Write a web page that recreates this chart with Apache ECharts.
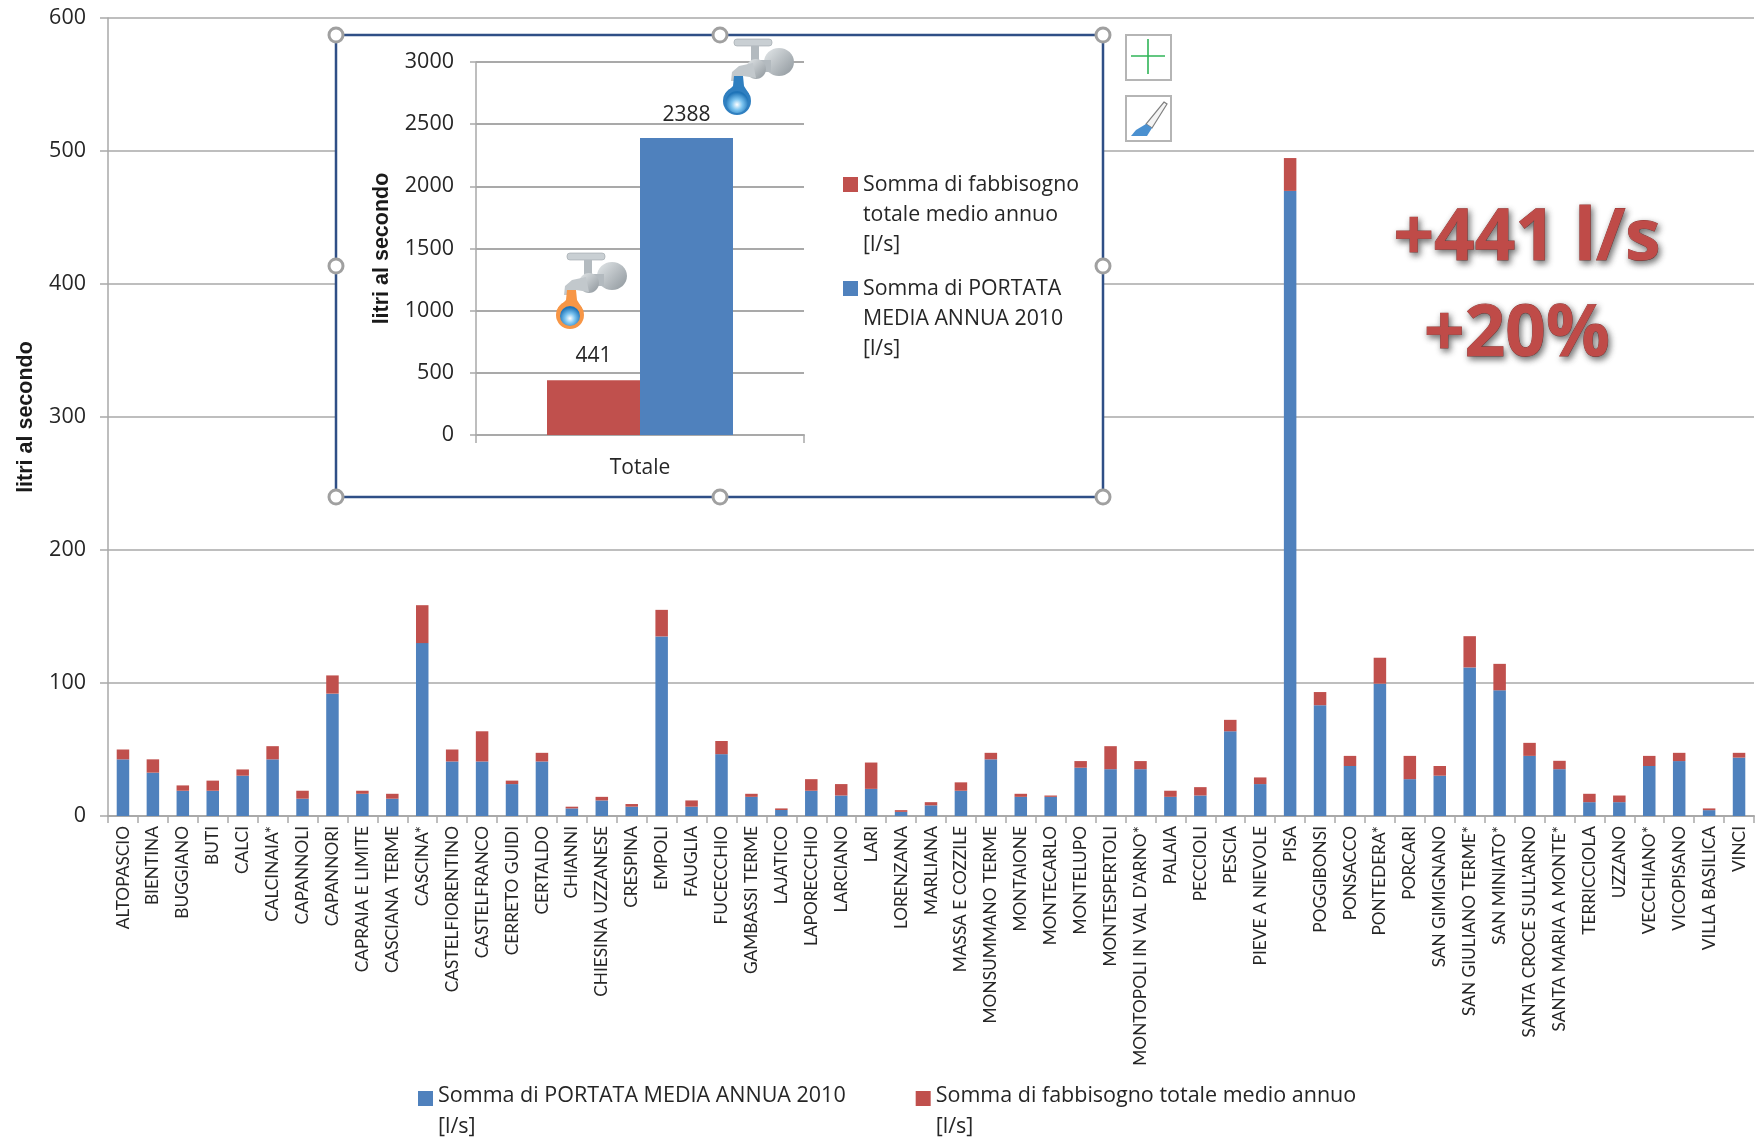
<!DOCTYPE html>
<html>
<head>
<meta charset="utf-8">
<style>html,body{margin:0;padding:0;background:#fff}#c{width:1755px;height:1139px}</style>
<script src="https://cdn.jsdelivr.net/npm/echarts@6/dist/echarts.min.js"></script>
</head>
<body>
<div id="c"></div>
<script>
const comuni = ["ALTOPASCIO","BIENTINA","BUGGIANO","BUTI","CALCI","CALCINAIA*","CAPANNOLI","CAPANNORI","CAPRAIA E LIMITE","CASCIANA TERME","CASCINA*","CASTELFIORENTINO","CASTELFRANCO","CERRETO GUIDI","CERTALDO","CHIANNI","CHIESINA UZZANESE","CRESPINA","EMPOLI","FAUGLIA","FUCECCHIO","GAMBASSI TERME","LAJATICO","LAPORECCHIO","LARCIANO","LARI","LORENZANA","MARLIANA","MASSA E COZZILE","MONSUMMANO TERME","MONTAIONE","MONTECARLO","MONTELUPO","MONTESPERTOLI","MONTOPOLI IN VAL D'ARNO*","PALAIA","PECCIOLI","PESCIA","PIEVE A NIEVOLE","PISA","POGGIBONSI","PONSACCO","PONTEDERA*","PORCARI","SAN GIMIGNANO","SAN GIULIANO TERME*","SAN MINIATO*","SANTA CROCE SULL'ARNO","SANTA MARIA A MONTE*","TERRICCIOLA","UZZANO","VECCHIANO*","VICOPISANO","VILLA BASILICA","VINCI"];
const portata = [42.6,32.6,19,19,30.3,42.6,13,92,16.7,13,130,41,41,24,41,5.7,11.7,7,135,7,46.5,14.4,4.5,19,15.4,20.4,3.1,8,19,42.6,14.4,14.4,36.3,35.2,35.2,14.4,15.4,63.7,24,470,83.3,37.6,99.5,27.7,30.3,111.7,94.5,45.2,35.2,10.4,10.4,37.6,41.3,4.4,43.9];
const fabbisogno = [7.4,10,4,7.6,4.7,9.9,6,13.7,2.3,3.7,28.5,9,22.7,2.6,6.5,1.3,2.7,2,20,4.7,9.9,2.3,1.2,8.7,8.6,19.8,1.3,2.4,6.3,4.9,2.3,1,5,17.3,6.1,4.6,6.3,8.6,5,24.7,9.9,7.6,19.5,17.5,7.3,23.5,19.9,9.8,6.3,6.3,5,7.6,6.2,1.3,3.6];
const totaleLabel = ["Totale"];
const totaleFabbisogno = [441];
const totalePortata = [2388];

const FONT = '"Open Sans", sans-serif';
const BLUE = '#4f81bd', RED = '#c0504d', GRID = '#a9a9a9', INK = '#262626';
const NAME_P = 'Somma di PORTATA MEDIA ANNUA 2010\n[l/s]';
const NAME_F = 'Somma di fabbisogno totale medio annuo\n[l/s]';
const NAME_IF = 'Somma di fabbisogno\ntotale medio annuo\n[l/s]';
const NAME_IP = 'Somma di PORTATA\nMEDIA ANNUA 2010\n[l/s]';

function faucet(x, y, orange) {
  const steel = { type:'linear', x:0, y:0, x2:1, y2:1, colorStops:[{offset:0,color:'#e4e8ea'},{offset:1,color:'#8e969c'}] };
  const drop = { type:'radial', x:0.5, y:0.62, r:0.55, colorStops:[{offset:0,color:'#ffffff'},{offset:0.45,color:'#7cc4f0'},{offset:1,color:'#1f74b8'}] };
  const dropFill = orange ? '#f79646' : '#2f7fc0';
  return { type:'group', x, y, z:12, children:[
    { type:'rect', z:12, shape:{x:11,y:3,width:38,height:7,r:3}, style:{fill:'#c9cfd3',stroke:'#9aa2a8',lineWidth:0.6} },
    { type:'rect', z:12, shape:{x:28,y:10,width:8,height:18}, style:{fill:'#b3babf'} },
    { type:'ellipse', z:12, shape:{cx:56,cy:26,rx:15,ry:14}, style:{fill:steel} },
    { type:'rect', z:12, shape:{x:36,y:24,width:12,height:12}, style:{fill:'#b3babf'} },
    { type:'ellipse', z:12, shape:{cx:33,cy:33,rx:10,ry:10}, style:{fill:steel} },
    { type:'polygon', z:12, shape:{points:[[30,27],[16,30],[9,36],[8,45],[19,45],[20,40],[33,42]]}, style:{fill:'#c2c8cc'} },
    { type:'polygon', z:13, shape:{points:[[11,40],[20,40],[21,50],[26,58],[14,66],[2,58],[10,50]]}, style:{fill:dropFill} },
    { type:'circle', z:13, shape:{cx:14,cy:65,r:14}, style:{fill:dropFill} },
    { type:'circle', z:14, shape:{cx:14,cy:66,r:orange?10:11}, style:{fill:drop} }
  ]};
}
function handle(cx, cy) {
  return { type:'circle', z:20, shape:{cx,cy,r:7}, style:{fill:'#ffffff',stroke:'#a0a0a0',lineWidth:3} };
}
function bigText(text, cx, cy) {
  return { type:'text', z:15, x:cx, y:cy, style:{ text, font:'bold 71px '+FONT, fill:'#bf4b48', stroke:'#9c3431', lineWidth:0.8,
    align:'center', verticalAlign:'middle',
    shadowColor:'rgba(60,60,60,0.75)', shadowBlur:6, shadowOffsetX:2, shadowOffsetY:3,
    textShadowColor:'rgba(60,60,60,0.75)', textShadowBlur:6, textShadowOffsetX:2, textShadowOffsetY:3 } };
}
const plain = v => String(v);
const axisText = { color:INK, fontFamily:FONT, fontSize:21.5, formatter:plain };
const titleText = { color:'#1a1a1a', fontFamily:'"Liberation Sans", sans-serif', fontSize:21.5, fontWeight:'bold' };

const option = {
  animation:false,
  backgroundColor:'#ffffff',
  grid:[
    { left:108, right:1, top:18, bottom:1139-816 },
    { left:476, width:328, top:62, height:373, z:10 }
  ],
  xAxis:[
    { type:'category', data:comuni, gridIndex:0,
      axisLine:{lineStyle:{color:GRID,width:2}}, axisTick:{show:true,length:7,lineStyle:{color:GRID,width:1.5}},
      axisLabel:{ interval:0, rotate:90, margin:10, color:INK, fontFamily:'Lato, sans-serif', fontSize:17.3, padding:[8,0,0,0] } },
    { type:'category', data:totaleLabel, gridIndex:1, z:10,
      axisLine:{lineStyle:{color:GRID,width:2}}, axisTick:{show:true,length:8,lineStyle:{color:GRID,width:1.5}},
      axisLabel:{margin:23,color:INK,fontFamily:FONT,fontSize:21} }
  ],
  yAxis:[
    { type:'value', gridIndex:0, min:0, max:600, interval:100, name:'litri al secondo', nameLocation:'middle', nameGap:71, nameTextStyle:titleText,
      axisLine:{show:true,lineStyle:{color:GRID,width:1.5}}, axisTick:{show:true,length:8,lineStyle:{color:GRID,width:1.5}},
      splitLine:{lineStyle:{color:GRID,width:1.5}}, axisLabel:Object.assign({margin:22},axisText) },
    { type:'value', gridIndex:1, z:10, min:0, max:3000, interval:500, name:'litri al secondo', nameLocation:'middle', nameGap:83, nameTextStyle:titleText,
      axisLine:{show:true,lineStyle:{color:GRID,width:1.5}}, axisTick:{show:true,length:6,lineStyle:{color:GRID,width:1.5}},
      splitLine:{lineStyle:{color:GRID,width:2}}, axisLabel:Object.assign({margin:22,padding:[3,0,0,0]},axisText) }
  ],
  legend:[
    { left:413, top:1075, orient:'horizontal', selectedMode:false, data:[NAME_P,NAME_F], itemGap:70,
      itemWidth:15, itemHeight:62, icon:'path://M0 11H15V26H0Z M0 0L0 0 M0 62L0 62',
      textStyle:{ color:INK, fontFamily:FONT, fontSize:21.5, lineHeight:31 } },
    { left:838, top:165, orient:'vertical', selectedMode:false, data:[NAME_IF,NAME_IP], itemGap:14, z:12,
      itemWidth:15, itemHeight:90, icon:'path://M0 7H15V22H0Z M0 0L0 0 M0 90L0 90',
      textStyle:{ color:INK, fontFamily:FONT, fontSize:21.3, lineHeight:30 } }
  ],
  series:[
    { name:NAME_P, type:'bar', stack:'m', xAxisIndex:0, yAxisIndex:0, barWidth:12.5, itemStyle:{color:BLUE}, data:portata },
    { name:NAME_F, type:'bar', stack:'m', xAxisIndex:0, yAxisIndex:0, barWidth:12.5, itemStyle:{color:RED}, data:fabbisogno },
    { name:NAME_IF, type:'bar', xAxisIndex:1, yAxisIndex:1, z:10, barWidth:93, barGap:'0%', itemStyle:{color:RED}, data:totaleFabbisogno,
      label:{show:true,position:'top',distance:14,color:INK,fontFamily:FONT,fontSize:21} },
    { name:NAME_IP, type:'bar', xAxisIndex:1, yAxisIndex:1, z:10, barWidth:93, barGap:'0%', itemStyle:{color:BLUE}, data:totalePortata,
      label:{show:true,position:'top',distance:13,color:INK,fontFamily:FONT,fontSize:21} }
  ],
  graphic:{ elements:[
    { type:'rect', z:5, shape:{x:336,y:35,width:767,height:462}, style:{fill:'#ffffff',stroke:'#2f4f86',lineWidth:2.5} },
    handle(336,35),handle(720,35),handle(1103,35),handle(336,266),handle(1103,266),handle(336,497),handle(720,497),handle(1103,497),
    faucet(556,250,true), faucet(723,36,false),
    { type:'rect', z:6, shape:{x:1126,y:35,width:45,height:45}, style:{fill:'#fff',stroke:'#b5b5b5',lineWidth:2} },
    { type:'rect', z:6, shape:{x:1126,y:96,width:45,height:45}, style:{fill:'#fff',stroke:'#b5b5b5',lineWidth:2} },
    { type:'line', z:7, shape:{x1:1148,y1:39,x2:1148,y2:74}, style:{stroke:'#2fb457',lineWidth:1.6} },
    { type:'line', z:7, shape:{x1:1131,y1:56,x2:1165,y2:56}, style:{stroke:'#2fb457',lineWidth:1.6} },
    { type:'polygon', z:7, shape:{points:[[1164,102],[1167,104],[1152,128],[1146,124]]}, style:{fill:'#f4f4f4',stroke:'#7f7f7f',lineWidth:1.2} },
    { type:'polygon', z:7, shape:{points:[[1146,124],[1152,128],[1147,136],[1131,136],[1136,130]]}, style:{fill:'#4a90d0'} },
    bigText('+441 l/s',1527,240), bigText('+20%',1517,336)
  ]}
};
echarts.init(document.getElementById('c')).setOption(option);
</script>
</body>
</html>
